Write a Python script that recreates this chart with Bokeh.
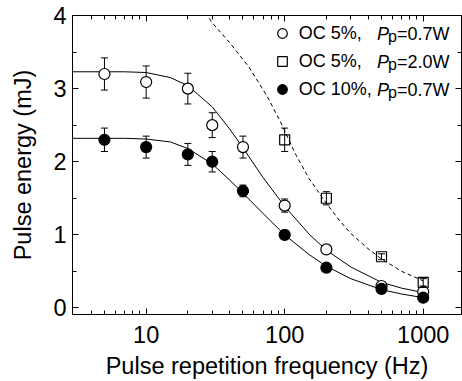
from bokeh.plotting import figure
from bokeh.models import (ColumnDataSource, Whisker, FixedTicker, LogAxis, LinearAxis,
                          Legend, LegendItem, Label, Range1d, TeeHead, PrintfTickFormatter)
from bokeh.embed import file_html
from bokeh.resources import INLINE

# ---------------- data ----------------
freq = [5, 10, 20, 30, 50, 100, 200, 500, 1000]
e_oc5_07 = [3.20, 3.09, 3.00, 2.50, 2.20, 1.40, 0.80, 0.30, 0.22]
err_oc5_07 = [0.22, 0.22, 0.21, 0.17, 0.15, 0.09, 0.03, 0.03, 0.03]
e_oc10_07 = [2.30, 2.20, 2.10, 2.00, 1.60, 1.00, 0.55, 0.26, 0.14]
err_oc10_07 = [0.16, 0.15, 0.15, 0.14, 0.08, 0.03, 0.03, 0.03, 0.03]

freq_20 = [100, 200, 500, 1000]
e_oc5_20 = [2.30, 1.50, 0.70, 0.35]
err_oc5_20 = [0.16, 0.09, 0.04, 0.05]

fit_f = [2.9, 5, 7, 10, 15, 20, 30, 40, 50, 70, 100, 150, 200, 300, 500, 700, 1000]
fit_oc5_07 = [3.23, 3.23, 3.23, 3.22, 3.15, 3.04, 2.75, 2.45, 2.19, 1.78, 1.39, 1.01, 0.79, 0.56, 0.35, 0.27, 0.21]
fit_oc10_07 = [2.32, 2.32, 2.32, 2.31, 2.27, 2.18, 1.97, 1.75, 1.57, 1.29, 1.00, 0.73, 0.57, 0.40, 0.25, 0.19, 0.14]

dash_f = [25, 30, 40, 55, 75, 93, 120, 150, 200, 250, 300, 400, 500, 700, 1000]
dash_e = [4.12, 3.90, 3.63, 3.30, 2.89, 2.55, 2.10, 1.77, 1.43, 1.19, 1.02, 0.81, 0.67, 0.50, 0.37]

x_ticks = [10, 100, 1000]
x_minor = [4, 5, 6, 7, 8, 9, 20, 30, 40, 50, 60, 70, 80, 90,
           200, 300, 400, 500, 600, 700, 800, 900]
y_ticks = [0, 1, 2, 3, 4]
y_minor = [0.5, 1.5, 2.5, 3.5]

x_title = "Pulse repetition frequency (Hz)"
y_title = "Pulse energy (mJ)"
legend_labels = ["OC 5%,", "OC 5%,", "OC 10%,"]
legend_power = ["=0.7W", "=2.0W", "=0.7W"]

FONT = "Liberation Sans"

# ---------------- figure ----------------
p = figure(width=462, height=381, x_axis_type="log",
           x_range=Range1d(2.94, 1890), y_range=Range1d(-0.09, 4.0),
           output_backend="svg", toolbar_location=None,
           min_border_left=72, min_border_right=1, min_border_top=15, min_border_bottom=67)
p.outline_line_color = None
p.xgrid.visible = False
p.ygrid.visible = False
p.background_fill_color = "white"
p.border_fill_color = "white"


def style_axis(ax, show_labels):
    ax.axis_line_color = "black"
    ax.axis_line_width = 1
    ax.major_tick_line_color = "black"
    ax.minor_tick_line_color = "black"
    ax.major_tick_in = 6
    ax.major_tick_out = 0
    ax.minor_tick_in = 4
    ax.minor_tick_out = 0
    ax.major_label_text_font = FONT
    ax.major_label_text_color = "black"
    ax.axis_label_text_font = FONT
    ax.axis_label_text_font_style = "normal"
    ax.axis_label_text_color = "black"
    ax.axis_label_text_line_height = 1.0
    ax.major_label_text_line_height = 1.0
    if not show_labels:
        ax.major_label_text_font_size = "1px"
        ax.major_label_text_alpha = 0
        ax.major_label_standoff = 0


xb = p.xaxis[0]
xb.ticker = FixedTicker(ticks=x_ticks, minor_ticks=x_minor)
xb.formatter = PrintfTickFormatter(format="%d")
style_axis(xb, True)
xb.major_label_text_font_size = "23.5px"
xb.major_label_standoff = 11
xb.axis_label = x_title
xb.axis_label_text_font_size = "23.5px"
xb.axis_label_standoff = 7

yl = p.yaxis[0]
yl.ticker = FixedTicker(ticks=y_ticks, minor_ticks=y_minor)
style_axis(yl, True)
yl.major_label_text_font_size = "23.5px"
yl.major_label_standoff = 6
yl.axis_label = y_title
yl.axis_label_text_font_size = "23.5px"
yl.axis_label_standoff = 14

xt = LogAxis(ticker=FixedTicker(ticks=x_ticks, minor_ticks=x_minor),
             formatter=PrintfTickFormatter(format="%d"))
style_axis(xt, False)
p.add_layout(xt, "above")

yr = LinearAxis(ticker=FixedTicker(ticks=y_ticks, minor_ticks=y_minor))
style_axis(yr, False)
p.add_layout(yr, "right")

# ---------------- fits ----------------
p.line(fit_f, fit_oc5_07, line_color="black", line_width=1)
p.line(fit_f, fit_oc10_07, line_color="black", line_width=1)
p.line(dash_f, dash_e, line_color="black", line_width=1, line_dash="4 3")

# ---------------- error bars ----------------
def add_err(xs, ys, es):
    src = ColumnDataSource(dict(x=xs, lo=[y - e for y, e in zip(ys, es)],
                                hi=[y + e for y, e in zip(ys, es)]))
    w = Whisker(source=src, base="x", lower="lo", upper="hi", line_color="black",
                line_width=1, level="underlay",
                lower_head=TeeHead(size=7, line_color="black", line_width=1),
                upper_head=TeeHead(size=7, line_color="black", line_width=1))
    p.add_layout(w)


add_err(freq, e_oc5_07, err_oc5_07)
add_err(freq, e_oc10_07, err_oc10_07)
add_err(freq_20, e_oc5_20, err_oc5_20)

# ---------------- markers ----------------
r_open = p.scatter(freq, e_oc5_07, marker="circle", size=11, fill_color="white",
                   line_color="black", line_width=1.2)
r_fill = p.scatter(freq, e_oc10_07, marker="circle", size=11, fill_color="black",
                   line_color="black", line_width=1.2)
r_sq = p.scatter(freq_20, e_oc5_20, marker="square", size=10, fill_alpha=0,
                 line_color="black", line_width=1.2)

# ---------------- legend ----------------
legend = Legend(items=[LegendItem(label=legend_labels[0], renderers=[r_open]),
                       LegendItem(label=legend_labels[1], renderers=[r_sq]),
                       LegendItem(label=legend_labels[2], renderers=[r_fill])],
                location=(197.7, 212.7), orientation="vertical",
                glyph_width=24, glyph_height=24, label_height=20, spacing=4,
                label_standoff=5, padding=0, margin=0,
                border_line_color=None, background_fill_alpha=0,
                label_text_font=FONT, label_text_font_size="18px", label_text_color="black")
p.add_layout(legend)

row_centers = [33.3, 61.3, 89.3]
frame_bottom = 314.0
frame_left = 72.0
for i in range(3):
    c = frame_bottom - row_centers[i]
    p.add_layout(Label(x=376.5 - frame_left, y=c, x_units="screen", y_units="screen",
                       text="P", text_font=FONT, text_font_style="italic",
                       text_font_size="18px", text_baseline="middle", text_color="black"))
    p.add_layout(Label(x=387.5 - frame_left, y=c - 3.0, x_units="screen", y_units="screen",
                       text="p", text_font=FONT, text_font_size="16px",
                       text_baseline="middle", text_color="black"))
    p.add_layout(Label(x=396.5 - frame_left, y=c, x_units="screen", y_units="screen",
                       text=legend_power[i], text_font=FONT, text_font_size="18px",
                       text_baseline="middle", text_color="black"))

open("out.html", "w").write(file_html(p, INLINE))
